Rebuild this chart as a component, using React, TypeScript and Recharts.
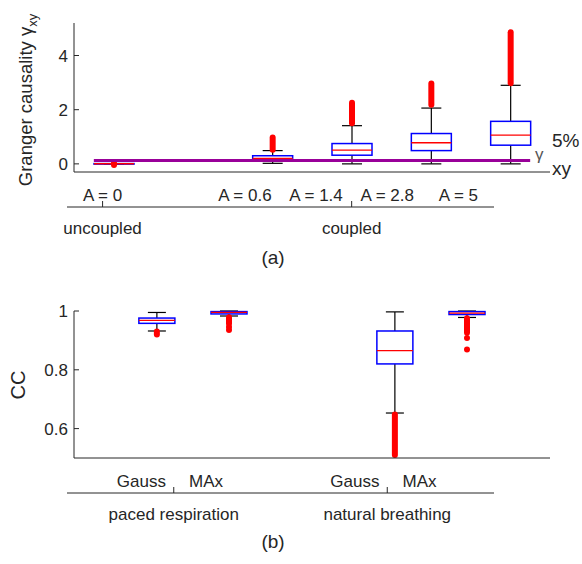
import React from "react";
import { ComposedChart, Bar, XAxis, YAxis, ReferenceLine } from "recharts";

const INK = "#262626";
const FONT = "'Liberation Sans', Arial, sans-serif";

// (a) Granger causality per coupling strength
const couplingLabels = ["A = 0", "A = 0.6", "A = 1.4", "A = 2.8", "A = 5"];
const couplingPos = [1, 3, 4, 5, 6];
const gcQ1 = [0, 0.17, 0.32, 0.49, 0.69];
const gcMedian = [0.005, 0.2, 0.51, 0.78, 1.06];
const gcQ3 = [0.01, 0.3, 0.75, 1.12, 1.57];
const gcWhiskerLo = [0, 0.02, 0, 0, 0];
const gcWhiskerHi = [0.01, 0.49, 1.41, 2.06, 2.9];
const gcOutlierLo = [-0.04, 0.52, 1.5, 2.18, 2.98];
const gcOutlierHi = [0.04, 0.97, 2.26, 2.97, 4.86];
const gcThreshold = 0.12;
const couplingGroups = ["uncoupled", "coupled"];
const couplingGroupPos = [1, 4.5];

// (b) correlation coefficient per method
const methodLabels = ["Gauss", "MAx", "Gauss", "MAx"];
const methodPos = [1.15, 2.15, 4.45, 5.45];
const ccQ1 = [0.958, 0.99, 0.82, 0.988];
const ccMedian = [0.968, 0.995, 0.865, 0.993];
const ccQ3 = [0.976, 0.998, 0.932, 0.998];
const ccWhiskerLo = [0.932, 0.983, 0.653, 0.978];
const ccWhiskerHi = [0.995, 1.0, 0.997, 1.0];
const ccOutlierLo = [0.92, 0.957, 0.51, 0.926];
const ccOutlierHi = [0.93, 0.979, 0.648, 0.975];
const ccSparseOutliers = [[], [0.946, 0.935], [], [0.908, 0.869]];
const breathingGroups = ["paced respiration", "natural breathing"];
const breathingGroupPos = [1.65, 4.95];

type Row = {
  pos: number;
  q1: number;
  med: number;
  q3: number;
  wLo: number;
  wHi: number;
  oLo: number;
  oHi: number;
  extra: number[];
  lo: number;
  hi: number;
};

function buildRows(
  pos: number[],
  q1: number[],
  med: number[],
  q3: number[],
  wLo: number[],
  wHi: number[],
  oLo: number[],
  oHi: number[],
  extra?: number[][]
): Row[] {
  return pos.map((p, i) => {
    const ex = extra ? extra[i] : [];
    return {
      pos: p,
      q1: q1[i],
      med: med[i],
      q3: q3[i],
      wLo: wLo[i],
      wHi: wHi[i],
      oLo: oLo[i],
      oHi: oHi[i],
      extra: ex,
      lo: Math.min(wLo[i], oLo[i], q1[i], ...ex),
      hi: Math.max(wHi[i], oHi[i], q3[i], ...ex),
    };
  });
}

const gcRows = buildRows(couplingPos, gcQ1, gcMedian, gcQ3, gcWhiskerLo, gcWhiskerHi, gcOutlierLo, gcOutlierHi);
const ccRows = buildRows(methodPos, ccQ1, ccMedian, ccQ3, ccWhiskerLo, ccWhiskerHi, ccOutlierLo, ccOutlierHi, ccSparseOutliers);

// the bar spans [lo, hi]; everything inside is placed on the same linear scale
function BoxShape(props: any) {
  const { x, y, width, height, payload } = props;
  const r: Row = payload;
  const span = r.hi - r.lo || 1;
  const py = (v: number) => y + (height * (r.hi - v)) / span;
  const cx = x + width / 2;
  const cap = width / 4;
  return (
    <g>
      <line x1={cx} x2={cx} y1={py(r.wHi)} y2={py(r.q3)} stroke="#000" strokeWidth={1.2} />
      <line x1={cx} x2={cx} y1={py(r.q1)} y2={py(r.wLo)} stroke="#000" strokeWidth={1.2} />
      <line x1={cx - cap} x2={cx + cap} y1={py(r.wHi)} y2={py(r.wHi)} stroke="#000" strokeWidth={1.2} />
      <line x1={cx - cap} x2={cx + cap} y1={py(r.wLo)} y2={py(r.wLo)} stroke="#000" strokeWidth={1.2} />
      <rect
        x={x}
        y={py(r.q3)}
        width={width}
        height={Math.max(py(r.q1) - py(r.q3), 0.5)}
        fill="none"
        stroke="#0000ff"
        strokeWidth={1.5}
      />
      <line x1={x} x2={x + width} y1={py(r.med)} y2={py(r.med)} stroke="#ff0000" strokeWidth={1.3} />
      <line
        x1={cx}
        x2={cx}
        y1={py(r.oHi)}
        y2={py(r.oLo)}
        stroke="#ff0000"
        strokeWidth={6}
        strokeLinecap="round"
      />
      {r.extra.map((v, i) => (
        <circle key={i} cx={cx} cy={py(v)} r={3} fill="#ff0000" />
      ))}
    </g>
  );
}

const tickFont = { fill: INK, fontSize: 17, fontFamily: FONT };

function groupTick(cats: string[], catPos: number[], groups: string[], groupPos: number[]) {
  return (props: any) => {
    const { x, y, payload } = props;
    const v = payload.value as number;
    const ci = catPos.findIndex((p) => Math.abs(p - v) < 1e-6);
    const gi = groupPos.findIndex((p) => Math.abs(p - v) < 1e-6);
    return (
      <g>
        {ci >= 0 && (
          <text x={x} y={y - 6} textAnchor="middle" fill={INK} fontSize={17} fontFamily={FONT}>
            {cats[ci]}
          </text>
        )}
        {gi >= 0 && (
          <>
            <line x1={x} x2={x} y1={y} y2={y - 6} stroke={INK} strokeWidth={1} />
            <text x={x} y={y + 27} textAnchor="middle" fill={INK} fontSize={17} fontFamily={FONT}>
              {groups[gi]}
            </text>
          </>
        )}
      </g>
    );
  };
}

function GroupAxis(props: {
  top: number;
  domain: [number, number];
  cats: string[];
  catPos: number[];
  groups: string[];
  groupPos: number[];
}) {
  const { top, domain, cats, catPos, groups, groupPos } = props;
  const ticks = [...new Set([...catPos, ...groupPos])].sort((a, b) => a - b);
  const data = catPos.map((p, i) => ({ pos: p, label: cats[i] }));
  return (
    <div style={{ position: "absolute", left: 0, top }}>
      <ComposedChart width={582} height={80} data={data} margin={{ top: 20, right: 88, left: 67, bottom: 0 }}>
        <XAxis
          dataKey="pos"
          type="number"
          domain={domain}
          ticks={ticks}
          interval={0}
          height={53}
          tickLine={false}
          tickSize={0}
          tickMargin={0}
          axisLine={{ stroke: INK, strokeWidth: 1 }}
          tick={groupTick(cats, catPos, groups, groupPos)}
        />
        <YAxis hide domain={[0, 1]} />
      </ComposedChart>
    </div>
  );
}

export default function App() {
  return (
    <div style={{ position: "relative", width: 582, height: 564, background: "#fff", fontFamily: FONT }}>
      <style>{`body{margin:0}`}</style>

      <div style={{ position: "absolute", left: 0, top: 0 }}>
        <ComposedChart width={582} height={180} data={gcRows} margin={{ top: 23, right: 32, left: 0, bottom: 0 }}>
          <XAxis
            dataKey="pos"
            type="number"
            domain={[0.5, 6.5]}
            ticks={couplingPos}
            interval={0}
            height={8}
            tick={false}
            tickSize={-6}
            tickLine={{ stroke: INK }}
            axisLine={{ stroke: INK }}
          />
          <YAxis
            type="number"
            domain={[-0.3, 5.2]}
            ticks={[0, 2, 4]}
            width={74}
            tickSize={-5}
            tickMargin={11}
            tickLine={{ stroke: INK }}
            axisLine={{ stroke: INK }}
            tick={tickFont}
          />
          <Bar dataKey={(d: Row) => [d.lo, d.hi]} barSize={40} shape={BoxShape} isAnimationActive={false} />
          <ReferenceLine
            segment={[
              { x: 0.75, y: gcThreshold },
              { x: 6.25, y: gcThreshold },
            ]}
            stroke="#990099"
            strokeWidth={3}
          />
        </ComposedChart>
      </div>

      <GroupAxis
        top={180}
        domain={[0.5, 6.5]}
        cats={couplingLabels}
        catPos={couplingPos}
        groups={couplingGroups}
        groupPos={couplingGroupPos}
      />

      <div style={{ position: "absolute", left: 0, top: 290 }}>
        <ComposedChart width={582} height={176} data={ccRows} margin={{ top: 21, right: 32, left: 0, bottom: 0 }}>
          <XAxis
            dataKey="pos"
            type="number"
            domain={[0, 6.6]}
            ticks={methodPos}
            interval={0}
            height={8}
            tick={false}
            tickSize={-6}
            tickLine={{ stroke: INK }}
            axisLine={{ stroke: INK }}
          />
          <YAxis
            type="number"
            domain={[0.5, 1]}
            ticks={[0.6, 0.8, 1]}
            width={74}
            tickSize={-5}
            tickMargin={11}
            tickLine={{ stroke: INK }}
            axisLine={{ stroke: INK }}
            tick={tickFont}
          />
          <Bar dataKey={(d: Row) => [d.lo, d.hi]} barSize={36} shape={BoxShape} isAnimationActive={false} />
        </ComposedChart>
      </div>

      <GroupAxis
        top={466}
        domain={[0, 6.6]}
        cats={methodLabels}
        catPos={methodPos}
        groups={breathingGroups}
        groupPos={breathingGroupPos}
      />

      <svg
        width={582}
        height={564}
        style={{ position: "absolute", left: 0, top: 0, pointerEvents: "none" }}
        fontFamily={FONT}
        fill={INK}
      >
        <text x={32} y={100} fontSize={18.5} textAnchor="middle" transform="rotate(-90 32 100)">
          Granger causality γ
          <tspan fontSize={13} dy={5}>
            xy
          </tspan>
        </text>
        <text x={25} y={385} fontSize={20} textAnchor="middle" transform="rotate(-90 25 385)">
          CC
        </text>
        <text x={552} y={147} fontSize={19}>
          5%
        </text>
        <text x={535} y={160} fontSize={17} fill="#555">
          γ
        </text>
        <text x={552} y={175} fontSize={19}>
          xy
        </text>
        <text x={273} y={264} fontSize={19} textAnchor="middle">
          (a)
        </text>
        <text x={273} y={548} fontSize={19} textAnchor="middle">
          (b)
        </text>
      </svg>
    </div>
  );
}
